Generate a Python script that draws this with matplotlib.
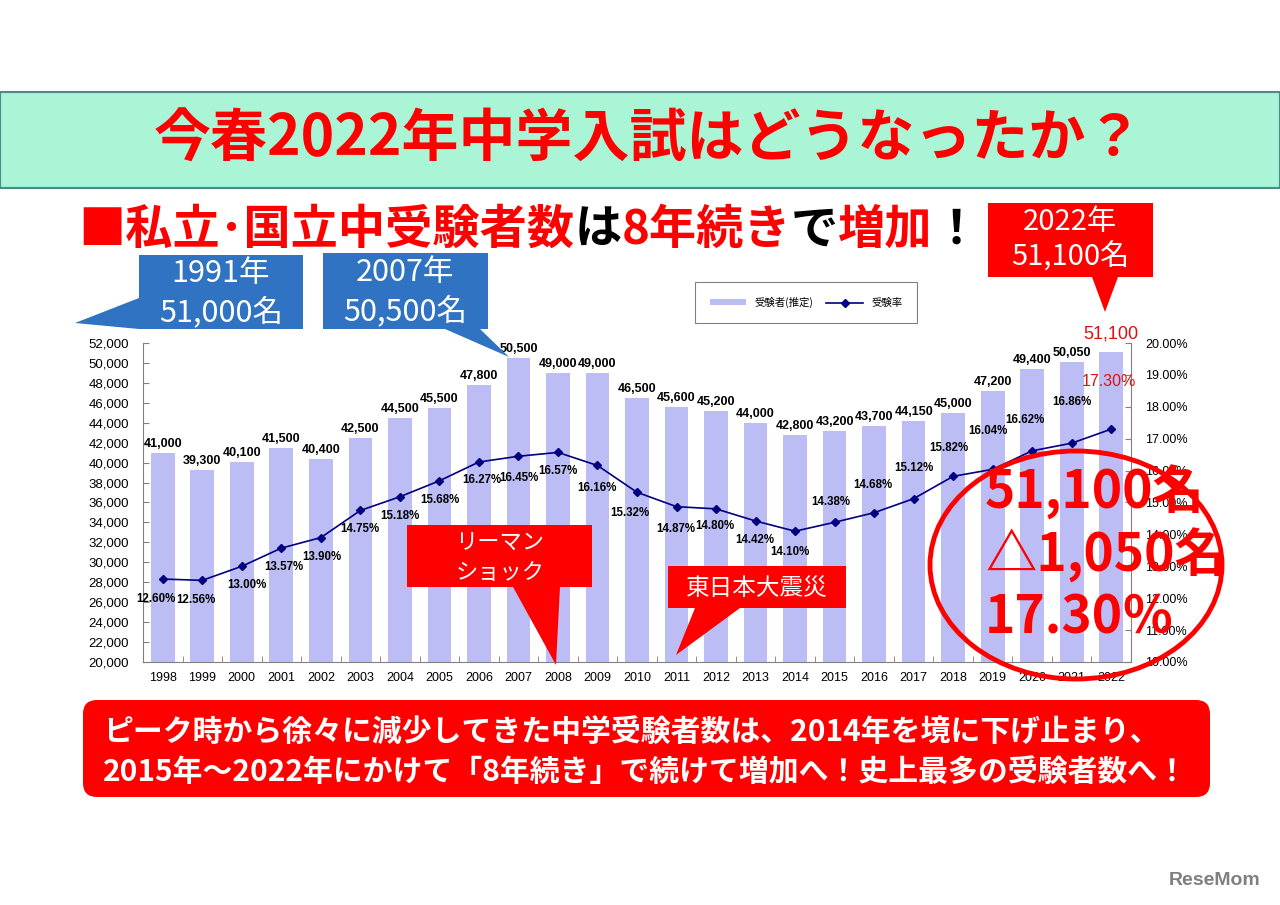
import matplotlib
matplotlib.use("Agg")
import matplotlib.pyplot as plt
from matplotlib.patches import Rectangle, Polygon, Ellipse, FancyBboxPatch
from matplotlib.transforms import Affine2D
from matplotlib.ticker import FuncFormatter, MultipleLocator, FixedLocator

plt.rcParams['font.family'] = ['Noto Sans CJK JP', 'DejaVu Sans']

W, H = 1280, 905

# data
years = ['1998', '1999', '2000', '2001', '2002', '2003', '2004', '2005', '2006',
         '2007', '2008', '2009', '2010', '2011', '2012', '2013', '2014', '2015',
         '2016', '2017', '2018', '2019', '2020', '2021', '2022']
examinees = [41000, 39300, 40100, 41500, 40400, 42500, 44500, 45500, 47800,
             50500, 49000, 49000, 46500, 45600, 45200, 44000, 42800, 43200,
             43700, 44150, 45000, 47200, 49400, 50050, 51100]
rates = [12.60, 12.56, 13.00, 13.57, 13.90, 14.75, 15.18, 15.68, 16.27,
         16.45, 16.57, 16.16, 15.32, 14.87, 14.80, 14.42, 14.10, 14.38,
         14.68, 15.12, 15.82, 16.04, 16.62, 16.86, 17.30]
legend_labels = ['受験者(推定)', '受験率']

# label offsets for the rate labels (pixels, +dy = down)
rate_offsets = [(-7, 20), (-6, 20), (5, 19), (2, 19), (1, 19), (-1, 19), (0, 19),
                (0, 19), (3, 18), (0, 22), (0, 19), (-1, 23), (-7, 21), (-1, 22),
                (-1, 17), (-1, 19), (-5, 21), (-4, -20), (-1, -28), (0, -31),
                (-4, -28), (-5, -38), (-7, -31), (0, -41), (-2, -48)]

BAR = '#BDBDF6'
LINE = '#000080'
RED = '#FF0000'
BLUE = '#2F73C2'
NUM_FONT = ['Liberation Sans', 'DejaVu Sans']

fig = plt.figure(figsize=(W / 100, H / 100), dpi=100)
fig.patch.set_facecolor('white')

# pixel transform, origin top-left like the picture
pix = Affine2D().scale(1, -1).translate(0, H)

ax = fig.add_axes([143 / W, 1 - 662 / H, (1131 - 143) / W, (662 - 343) / H])
ax2 = ax.twinx()
ax.set_facecolor('none')

x = range(len(years))
bars = ax.bar(x, examinees, width=0.6, color=BAR, zorder=1)
line, = ax2.plot(x, rates, color=LINE, lw=1.2, marker='D', markersize=4)

ax.set_xlim(-0.5, len(years) - 0.5)
ax.set_ylim(20000, 52000)
ax2.set_ylim(10, 20)

ax.yaxis.set_major_locator(MultipleLocator(2000))
ax.yaxis.set_major_formatter(FuncFormatter(lambda v, p: f'{int(v):,}'))
ax2.yaxis.set_major_locator(MultipleLocator(1))
ax2.yaxis.set_major_formatter(FuncFormatter(lambda v, p: f'{v:.2f}%'))

ax.set_xticks(list(x))
ax.set_xticklabels(years, fontfamily=NUM_FONT, fontsize=9)
ax.xaxis.set_minor_locator(FixedLocator([i - 0.5 for i in range(len(years) + 1)]))
ax.tick_params(axis='x', which='major', length=0, pad=7)
ax.tick_params(axis='x', which='minor', direction='in', length=4, color='#808080')
ax.tick_params(axis='y', direction='in', length=4, color='#808080', pad=10,
               labelsize=9.5)
ax2.tick_params(axis='y', direction='in', length=4, color='#808080', pad=10,
                labelsize=9)
for lab in ax.get_yticklabels() + ax2.get_yticklabels():
    lab.set_fontfamily(NUM_FONT)

for a in (ax, ax2):
    a.spines['top'].set_visible(False)
    for s in a.spines.values():
        s.set_color('#808080')
ax.spines['right'].set_visible(False)
ax2.spines['left'].set_visible(False)
ax2.spines['bottom'].set_visible(False)

# value labels on bars
for i, v in enumerate(examinees):
    last = i == len(examinees) - 1
    ax.annotate(f'{v:,}', (i, v), xytext=(0, 9 if last else 3),
                textcoords='offset pixels', ha='center', va='bottom',
                fontfamily=NUM_FONT, fontsize=13 if last else 9,
                fontweight='normal' if last else 'bold',
                color='#E01010' if last else 'black')

# rate labels
for i, r in enumerate(rates):
    last = i == len(rates) - 1
    dx, dy = rate_offsets[i]
    ax2.annotate(f'{r:.2f}%', (i, r), xytext=(dx, -dy),
                 textcoords='offset pixels', ha='center', va='center',
                 fontfamily=NUM_FONT, fontsize=11.5 if last else 8.3,
                 fontweight='normal' if last else 'bold',
                 color='#E01010' if last else 'black')

leg = ax2.legend([bars, line], legend_labels, loc='center', ncol=2,
                 bbox_to_anchor=(690 / W, 1 - 325 / H, 232 / W, 45 / H),
                 bbox_transform=fig.transFigure, mode='expand',
                 fancybox=False, edgecolor='#808080', fontsize=7.5,
                 borderpad=1.4, handlelength=3.5, handleheight=0.5,
                 numpoints=1, framealpha=1)
leg.get_frame().set_linewidth(0.8)

# ---- slide decorations ----
fig.add_artist(Rectangle((0, 92), W, 96, transform=pix, facecolor='#A9F5D6',
                         edgecolor='#4A8A8A', lw=1.5))
fig.text(648, 140, '今春2022年中学入試はどうなったか？', transform=pix,
         ha='center', va='center', fontsize=41, color=RED, fontweight='bold')

# subtitle with mixed colours
parts = [('■私立･国立中受験者数', RED), ('は', 'black'), ('8年続き', RED),
         ('で', 'black'), ('増加', RED), ('！', 'black')]
fig.canvas.draw()
rend = fig.canvas.get_renderer()
cx = 78
for s, c in parts:
    t = fig.text(cx, 230, s, transform=pix, ha='left', va='center',
                 fontsize=34, color=c, fontweight='bold')
    bb = t.get_window_extent(renderer=rend)
    cx += bb.width


def callout(box, tri, color, lines, size, weight='normal'):
    x0, y0, x1, y1 = box
    fig.add_artist(Rectangle((x0, y0), x1 - x0, y1 - y0, transform=pix,
                             facecolor=color, edgecolor='none'))
    fig.add_artist(Polygon(tri, closed=True, transform=pix,
                           facecolor=color, edgecolor='none'))
    for tx, ty, s in lines:
        fig.text(tx, ty, s, transform=pix, ha='center', va='center',
                 fontsize=size, color='white', fontweight=weight)


callout((139, 255, 303, 329), [(139, 298), (75, 323), (139, 329)], BLUE,
        [(221, 273, '1991年'), (221, 312, '51,000名')], 22)
callout((323, 253, 488, 329), [(445, 329), (509, 357), (480, 329)], BLUE,
        [(405, 272, '2007年'), (405, 311, '50,500名')], 22)
callout((988, 203, 1153, 277), [(1092, 277), (1105, 312), (1118, 277)], RED,
        [(1070, 222, '2022年'), (1070, 257, '51,100名')], 21)
callout((407, 525, 592, 587), [(513, 587), (556, 665), (560, 587)], RED,
        [(500, 543, 'リーマン'), (500, 572, 'ショック')], 16)
callout((668, 566, 846, 608), [(695, 608), (676, 655), (740, 608)], RED,
        [(757, 588, '東日本大震災')], 17)

# big red ellipse with the headline numbers
fig.add_artist(Ellipse((1076, 565), 292, 228, transform=pix, fill=False,
                       edgecolor=RED, lw=3.5))
for ty, s in [(492, '51,100名'), (555, '△1,050名'), (618, '17.30％')]:
    fig.text(985, ty, s, transform=pix, ha='left', va='center', fontsize=37,
             color=RED, fontweight='bold')

# bottom comment box
fig.add_artist(FancyBboxPatch((83, 700), 1127, 97, transform=pix,
                              boxstyle='round,pad=0,rounding_size=14',
                              facecolor=RED, edgecolor='none'))
fig.text(103, 733, 'ピーク時から徐々に減少してきた中学受験者数は、2014年を境に下げ止まり、',
         transform=pix, ha='left', va='center', fontsize=21.5, color='white',
         fontweight='bold')
fig.text(103, 773, '2015年～2022年にかけて「8年続き」で続けて増加へ！史上最多の受験者数へ！',
         transform=pix, ha='left', va='center', fontsize=21.5, color='white',
         fontweight='bold')

fig.text(1215, 880, 'ReseMom', transform=pix, ha='center', va='center',
         fontsize=14, color='#808080', fontweight='bold',
         fontfamily=NUM_FONT)

fig.savefig('out.png', dpi=100)
